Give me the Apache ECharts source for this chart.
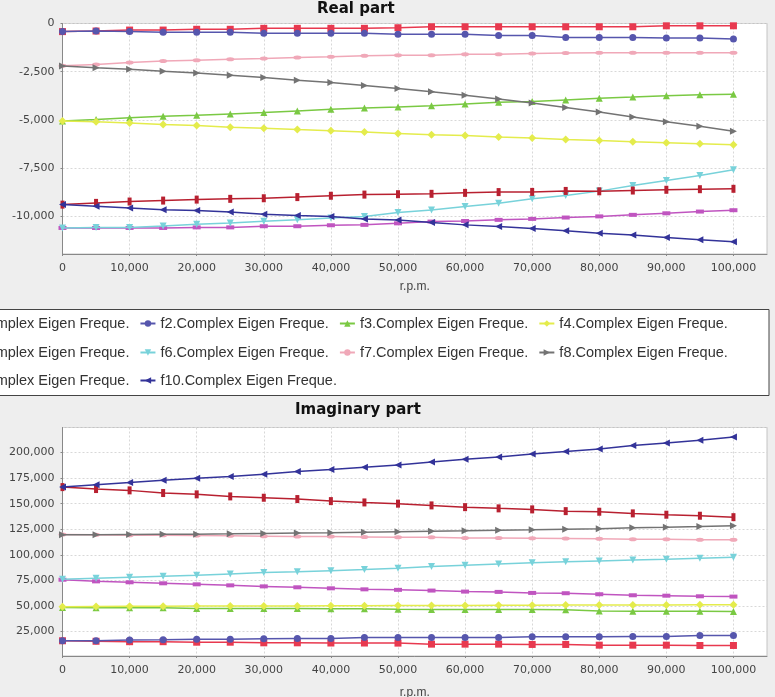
<!DOCTYPE html>
<html><head><meta charset="utf-8">
<script src="https://cdn.jsdelivr.net/npm/echarts@6/dist/echarts.min.js"></script>
<style>html,body{margin:0;padding:0;background:#eeeeee;overflow:hidden}#c{width:775px;height:697px;}</style>
</head><body><div id="c"></div>
<script>
// ---- data ----
const rpm = [0,5000,10000,15000,20000,25000,30000,35000,40000,45000,50000,55000,60000,65000,70000,75000,80000,85000,90000,95000,100000];
const seriesNames = ['f1.Complex Eigen Freque.','f2.Complex Eigen Freque.','f3.Complex Eigen Freque.','f4.Complex Eigen Freque.','f5.Complex Eigen Freque.','f6.Complex Eigen Freque.','f7.Complex Eigen Freque.','f8.Complex Eigen Freque.','f9.Complex Eigen Freque.','f10.Complex Eigen Freque.'];
const titles = ['Real part','Imaginary part'];
const xAxisName = 'r.p.m.';

const realF1 = [-420,-390,-340,-340,-300,-300,-250,-250,-250,-250,-220,-170,-170,-170,-170,-170,-170,-170,-120,-120,-120];
const realF2 = [-420,-390,-420,-460,-460,-460,-510,-510,-510,-510,-560,-560,-560,-620,-620,-720,-720,-720,-750,-750,-800];
const realF3 = [-5050,-4980,-4880,-4810,-4760,-4690,-4620,-4530,-4450,-4380,-4330,-4260,-4170,-4080,-4050,-3960,-3870,-3810,-3740,-3700,-3670];
const realF4 = [-5050,-5100,-5160,-5230,-5290,-5380,-5430,-5500,-5560,-5630,-5700,-5770,-5810,-5890,-5940,-6010,-6060,-6130,-6180,-6230,-6280];
const realF5 = [-10600,-10600,-10600,-10600,-10570,-10570,-10510,-10510,-10460,-10440,-10360,-10270,-10240,-10180,-10130,-10060,-10000,-9920,-9840,-9750,-9680];
const realF6 = [-10600,-10580,-10570,-10500,-10410,-10340,-10250,-10180,-10080,-10000,-9800,-9670,-9490,-9320,-9090,-8920,-8690,-8400,-8140,-7880,-7580];
const realF7 = [-2190,-2120,-2020,-1950,-1900,-1850,-1810,-1760,-1720,-1670,-1640,-1640,-1600,-1590,-1560,-1530,-1520,-1510,-1510,-1510,-1510];
const realF8 = [-2200,-2300,-2370,-2470,-2560,-2680,-2800,-2940,-3060,-3210,-3370,-3540,-3720,-3910,-4120,-4360,-4590,-4850,-5090,-5330,-5590];
const realF9 = [-9390,-9300,-9230,-9180,-9130,-9090,-9060,-9000,-8930,-8870,-8850,-8830,-8780,-8740,-8730,-8680,-8700,-8660,-8620,-8590,-8570];
const realF10 = [-9390,-9470,-9560,-9650,-9700,-9770,-9890,-9960,-10010,-10130,-10190,-10320,-10440,-10530,-10630,-10740,-10880,-10960,-11090,-11210,-11310];

const imagF1 = [15900,15400,15000,15000,14500,14500,13900,13900,13700,13700,13600,12600,12600,12600,12300,12300,11600,11600,11600,11300,11300];
const imagF2 = [15900,15900,16600,16900,17500,17500,17900,18200,18200,19100,19100,19100,19100,19100,19800,19800,19800,20100,20100,21100,21100];
const imagF3 = [48500,48200,48200,48200,47500,47500,47500,47400,47300,47200,46800,46500,46500,46400,46400,46300,45000,44800,44800,44700,44600];
const imagF4 = [49200,49500,49600,49700,49800,49900,49900,50000,50100,50200,50300,50400,50500,50600,50700,50800,50800,50900,51000,51100,51200];
const imagF5 = [75600,74000,73100,72100,71100,70100,69100,68200,67200,66200,65700,65000,64000,63700,62700,62400,61400,60400,60000,59400,59100];
const imagF6 = [76000,77000,78000,79000,80000,81300,82600,83500,84500,85500,86800,88500,89800,91100,92100,93100,94000,95000,95600,96600,97600];
const imagF7 = [119800,119500,119200,119200,118800,118500,118200,117800,117800,117500,117200,117200,116500,116500,116200,115900,115600,115200,115200,114600,114600];
const imagF8 = [119600,119600,119900,120200,120200,120500,120900,121200,121500,122100,122600,123100,123400,124000,124400,125000,125500,126500,127000,127600,128300];
const imagF9 = [166200,164300,163000,160400,159100,157100,155800,154500,152500,151200,150000,148300,146600,145400,144400,142700,142100,140500,139200,138200,136800];
const imagF10 = [166200,168600,170600,172800,174800,176500,178700,181400,183300,185600,187900,190800,193400,195700,198600,201000,203500,206900,209400,212100,215300];

const realValues = [realF1,realF2,realF3,realF4,realF5,realF6,realF7,realF8,realF9,realF10];
const imagValues = [imagF1,imagF2,imagF3,imagF4,imagF5,imagF6,imagF7,imagF8,imagF9,imagF10];

// ---- styles ----
const ellipse = 'path://M0,5A10,5 0 1,1 20,5A10,5 0 1,1 0,5Z';
const styles = [
  {color:'#e8394f', symbol:'rect', size:7, rot:0},
  {color:'#5656ad', symbol:'circle', size:7, rot:0},
  {color:'#7ac943', symbol:'triangle', size:7, rot:0},
  {color:'#e4ec4c', symbol:'diamond', size:8, rot:0},
  {color:'#c055c0', symbol:'rect', size:[8,4], rot:0},
  {color:'#78d2da', symbol:'triangle', size:7, rot:180},
  {color:'#f0a8b8', symbol:ellipse, size:[8,4], rot:0},
  {color:'#737373', symbol:'triangle', size:7, rot:-90},
  {color:'#b82030', symbol:'rect', size:[4,8], rot:0},
  {color:'#333399', symbol:'triangle', size:7, rot:90}
];

const fmt = v => Math.round(v).toLocaleString('en-US');
const tickFont = {fontFamily:'DejaVu Sans', fontSize:11, color:'#444'};

function xAxis(gridIndex){
  return {
    type:'value', gridIndex, min:0, max:105000, interval:10000,
    name:xAxisName, nameLocation:'middle', nameGap: gridIndex===0 ? 27 : 31,
    nameTextStyle:{fontFamily:'Liberation Sans', fontSize:12, color:'#444'},
    axisLine:{show:true, onZero:false, lineStyle:{color:'#888', width:1}},
    axisTick:{show:true, length:2, lineStyle:{color:'#888'}},
    axisLabel:Object.assign({margin:9, showMaxLabel:false, formatter:fmt}, tickFont),
    splitLine:{show:true, lineStyle:{color:'#d8d8d8', type:[2,2], width:1}}
  };
}
function yAxis(gridIndex, min, max, step){
  return {
    type:'value', gridIndex, min, max, minInterval:step, maxInterval:step,
    axisLine:{show:true, onZero:false, lineStyle:{color:'#888', width:1}},
    axisTick:{show:true, length:2, lineStyle:{color:'#888'}},
    axisLabel:Object.assign({margin:8, showMinLabel:false, showMaxLabel: gridIndex===0, formatter:fmt}, tickFont),
    splitLine:{show:true, lineStyle:{color:'#d8d8d8', type:[2,2], width:1}}
  };
}

const series = [];
[realValues, imagValues].forEach((set, g) => {
  set.forEach((vals, i) => {
    const s = styles[i];
    series.push({
      type:'line', name:seriesNames[i], xAxisIndex:g, yAxisIndex:g,
      data: rpm.map((x, k) => [x, vals[k]]),
      symbol:s.symbol, symbolSize:s.size, symbolRotate:s.rot, showSymbol:true,
      itemStyle:{color:s.color, borderWidth:0},
      lineStyle:{color:s.color, width:1.5},
      emphasis:{disabled:true}, z: 2 + i
    });
  });
});

const legendCommon = {
  left:-60, padding:0, itemGap:10, itemWidth:15, itemHeight:8, width:1000,
  selectedMode:false, orient:'horizontal',
  textStyle:{fontFamily:'Liberation Sans', fontSize:14.5, color:'#333', padding:[0,0,0,0]}
};

const chart = echarts.init(document.getElementById('c'), null, {renderer:'canvas'});
chart.setOption({
  animation:false,
  backgroundColor:'#eeeeee',
  title:[
    {text:titles[0], left:317, top:2, padding:0, textStyle:{fontFamily:'DejaVu Sans', fontWeight:'bold', fontSize:15, color:'#111'}},
    {text:titles[1], left:295, top:403, padding:0, textStyle:{fontFamily:'DejaVu Sans', fontWeight:'bold', fontSize:15, color:'#111'}}
  ],
  graphic:[{type:'rect', z:0, silent:true, shape:{x:-2, y:309.5, width:771, height:86}, style:{fill:'#ffffff', stroke:'#444', lineWidth:1}}],
  legend:[
    Object.assign({}, legendCommon, {top:316, data:seriesNames.slice(0,4)}),
    Object.assign({}, legendCommon, {top:345, data:seriesNames.slice(4,8)}),
    Object.assign({}, legendCommon, {top:373, data:seriesNames.slice(8,10)})
  ],
  grid:[
    {left:62.5, right:8, top:23.5, height:230.5, show:true, backgroundColor:'#ffffff', borderColor:'#c4c4c4', borderWidth:1, containLabel:false, outerBoundsMode:'none'},
    {left:62.5, right:8, top:427.5, height:228.5, show:true, backgroundColor:'#ffffff', borderColor:'#c4c4c4', borderWidth:1, containLabel:false, outerBoundsMode:'none'}
  ],
  xAxis:[xAxis(0), xAxis(1)],
  yAxis:[yAxis(0, -11950, 0, 2500), yAxis(1, 1000, 224500, 25000)],
  series
});
</script></body></html>
